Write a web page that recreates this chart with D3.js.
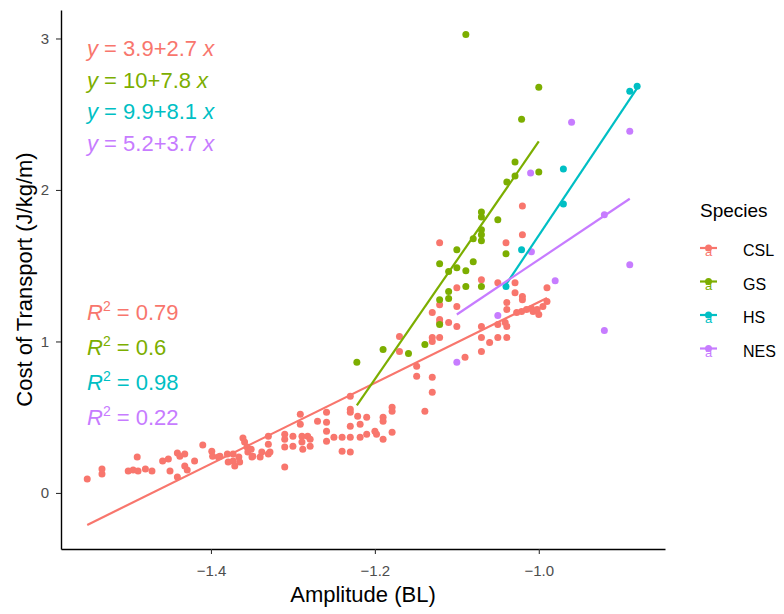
<!DOCTYPE html>
<html>
<head>
<meta charset="utf-8">
<script src="https://cdn.jsdelivr.net/npm/d3@7"></script>
<style>
  body { margin: 0; background: #fff; }
  text { font-family: "Liberation Sans", Arial, sans-serif; }
</style>
</head>
<body>
<script>
// Species and colours (ggplot default hue palette)
const species = ["CSL", "GS", "HS", "NES"];
const colors = ["#F8766D", "#7CAE00", "#00BFC4", "#C77CFF"];

// Raw points: [amplitude, cost]
const cslPoints = [
  [-1.551, 0.092], [-1.533, 0.158], [-1.533, 0.125], [-1.501, 0.145], [-1.495, 0.151],
  [-1.489, 0.145], [-1.480, 0.158], [-1.472, 0.145], [-1.490, 0.237], [-1.459, 0.211],
  [-1.452, 0.224], [-1.441, 0.263], [-1.438, 0.243], [-1.432, 0.257], [-1.450, 0.145],
  [-1.441, 0.105], [-1.432, 0.178], [-1.429, 0.151], [-1.420, 0.211], [-1.410, 0.316],
  [-1.399, 0.276], [-1.398, 0.243], [-1.391, 0.237], [-1.389, 0.243], [-1.380, 0.257],
  [-1.379, 0.204], [-1.373, 0.257], [-1.373, 0.211], [-1.371, 0.178], [-1.366, 0.237],
  [-1.365, 0.204], [-1.361, 0.362], [-1.359, 0.336], [-1.356, 0.303], [-1.355, 0.270],
  [-1.351, 0.289], [-1.350, 0.237], [-1.340, 0.237], [-1.330, 0.257], [-1.330, 0.322],
  [-1.330, 0.375], [-1.338, 0.270], [-1.328, 0.270], [-1.349, 0.243], [-1.310, 0.388],
  [-1.310, 0.355], [-1.310, 0.303], [-1.310, 0.171], [-1.300, 0.375], [-1.300, 0.309],
  [-1.291, 0.520], [-1.291, 0.454], [-1.289, 0.375], [-1.289, 0.336], [-1.288, 0.289],
  [-1.282, 0.375], [-1.279, 0.355], [-1.279, 0.309], [-1.270, 0.474], [-1.259, 0.533],
  [-1.259, 0.467], [-1.259, 0.408], [-1.259, 0.342], [-1.250, 0.368], [-1.240, 0.368],
  [-1.240, 0.276], [-1.230, 0.638], [-1.230, 0.553], [-1.230, 0.533], [-1.230, 0.441],
  [-1.230, 0.368], [-1.230, 0.270], [-1.221, 0.507], [-1.218, 0.454], [-1.218, 0.368],
  [-1.210, 0.500], [-1.210, 0.388], [-1.200, 0.408], [-1.198, 0.388], [-1.190, 0.500],
  [-1.190, 0.474], [-1.190, 0.355], [-1.179, 0.566], [-1.179, 0.539], [-1.179, 0.401],
  [-1.139, 0.539], [-1.130, 0.664], [-1.170, 1.033], [-1.170, 0.934], [-1.149, 0.836],
  [-1.149, 0.770], [-1.130, 0.763], [-1.121, 1.651], [-1.121, 1.243], [-1.130, 1.191],
  [-1.121, 1.145], [-1.121, 1.125], [-1.110, 1.125], [-1.121, 1.026], [-1.130, 1.026],
  [-1.130, 1.000], [-1.100, 1.355], [-1.100, 1.230], [-1.100, 1.099], [-1.090, 0.895],
  [-1.070, 1.408], [-1.070, 1.099], [-1.070, 1.026], [-1.070, 0.934], [-1.060, 0.993],
  [-1.050, 1.388], [-1.050, 1.112], [-1.050, 1.026], [-1.041, 1.125], [-1.039, 1.099],
  [-1.039, 1.026], [-1.039, 1.257], [-1.039, 1.211], [-1.040, 1.651], [-1.029, 1.388],
  [-1.029, 1.322], [-1.020, 1.296], [-1.020, 1.276], [-1.020, 1.704], [-1.020, 1.895],
  [-0.990, 1.355], [-1.027, 1.191], [-1.021, 1.197], [-1.015, 1.211], [-1.009, 1.217],
  [-1.007, 1.197], [-1.002, 1.211], [-1.000, 1.178], [-0.995, 1.230], [-0.990, 1.263]
];
const gsPoints = [
  [-1.222, 0.862], [-1.190, 0.947], [-1.159, 0.921], [-1.139, 0.980], [-1.121, 1.112],
  [-1.121, 1.276], [-1.110, 1.329], [-1.110, 1.283], [-1.121, 1.513], [-1.110, 1.461],
  [-1.100, 1.487], [-1.089, 1.467], [-1.080, 1.526], [-1.089, 1.362], [-1.070, 1.362],
  [-1.100, 1.605], [-1.080, 1.678], [-1.070, 1.737], [-1.070, 1.704], [-1.070, 1.664],
  [-1.070, 1.855], [-1.070, 1.822], [-1.050, 1.803], [-1.040, 1.579], [-1.039, 2.053],
  [-1.029, 2.092], [-1.029, 2.184], [-1.000, 2.118], [-1.021, 2.467], [-1.000, 2.678],
  [-1.089, 3.026]
];
const hsPoints = [
  [-1.040, 1.362], [-1.021, 1.605], [-0.970, 1.908], [-0.970, 2.138], [-0.889, 2.651],
  [-0.880, 2.684]
];
const nesPoints = [
  [-1.100, 0.862], [-1.050, 1.171], [-1.009, 1.592], [-1.010, 2.112], [-0.980, 1.401],
  [-0.960, 2.447], [-0.920, 1.836], [-0.920, 1.072], [-0.889, 2.388], [-0.889, 1.507]
];

// Linear fits per species (intercept, slope) and x extent of each fit line
const fitIntercept = [3.93, 10.17, 9.8, 5.16];
const fitSlope = [2.67, 7.85, 8.1, 3.62];
const fitXMin = [-1.551, -1.222, -1.040, -1.100];
const fitXMax = [-0.990, -1.000, -0.880, -0.889];

// Annotation labels
const eqLabels = ["3.9+2.7", "10+7.8", "9.9+8.1", "5.2+3.7"];
const r2Labels = ["0.79", "0.6", "0.98", "0.22"];

const xTicks = [-1.4, -1.2, -1.0];
const yTicks = [0, 1, 2, 3];

const W = 784, H = 614;
const panel = { left: 61, right: 665, top: 10, bottom: 549 };

const svg = d3.select("body").append("svg")
  .attr("width", W)
  .attr("height", H);

const x = d3.scaleLinear().domain([-1.583, -0.846]).range([panel.left, panel.right]);
const y = d3.scaleLinear().domain([-0.37, 3.188]).range([panel.bottom, panel.top]);

const allPoints = [cslPoints, gsPoints, hsPoints, nesPoints];

// Points
allPoints.forEach((pts, i) => {
  svg.append("g").selectAll("circle")
    .data(pts)
    .enter()
    .append("circle")
    .attr("cx", d => x(d[0]))
    .attr("cy", d => y(d[1]))
    .attr("r", 3.5)
    .attr("fill", colors[i]);
});

// Fit lines
species.forEach((s, i) => {
  svg.append("line")
    .attr("x1", x(fitXMin[i]))
    .attr("y1", y(fitIntercept[i] + fitSlope[i] * fitXMin[i]))
    .attr("x2", x(fitXMax[i]))
    .attr("y2", y(fitIntercept[i] + fitSlope[i] * fitXMax[i]))
    .attr("stroke", colors[i])
    .attr("stroke-width", 2.2);
});

// Axes
const xAxis = svg.append("g")
  .attr("transform", `translate(0,${panel.bottom})`)
  .call(d3.axisBottom(x).tickValues(xTicks).tickFormat(d3.format(".1f")).tickSize(5).tickSizeOuter(0));
const yAxis = svg.append("g")
  .attr("transform", `translate(${panel.left},0)`)
  .call(d3.axisLeft(y).tickValues(yTicks).tickFormat(d3.format("d")).tickSize(5).tickSizeOuter(0));

[xAxis, yAxis].forEach(g => {
  g.select(".domain").attr("stroke", "#000").attr("stroke-width", 1.4);
  g.selectAll(".tick line").attr("stroke", "#333").attr("stroke-width", 1.1);
  g.selectAll(".tick text")
    .attr("fill", "#4d4d4d")
    .style("font-size", "15px")
    .style("font-family", "'Liberation Sans', Arial, sans-serif");
});
xAxis.selectAll(".tick text").attr("y", 10).attr("dy", "1.15em");
yAxis.selectAll(".tick text").attr("x", -12);

// Axis titles
svg.append("text")
  .attr("x", (panel.left + panel.right) / 2)
  .attr("y", 602)
  .attr("text-anchor", "middle")
  .style("font-size", "22px")
  .attr("fill", "#000")
  .text("Amplitude (BL)");

svg.append("text")
  .attr("transform", `translate(32,${(panel.top + panel.bottom) / 2}) rotate(-90)`)
  .attr("text-anchor", "middle")
  .style("font-size", "22px")
  .attr("fill", "#000")
  .text("Cost of Transport (J/kg/m)");

// Equation annotations
eqLabels.forEach((lab, i) => {
  const t = svg.append("text")
    .attr("x", 87)
    .attr("y", 56 + i * 31.7)
    .attr("fill", colors[i])
    .style("font-size", "22px");
  t.append("tspan").style("font-style", "italic").text("y");
  t.append("tspan").text(" = " + lab + " ");
  t.append("tspan").style("font-style", "italic").text("x");
});

// R squared annotations
r2Labels.forEach((lab, i) => {
  const t = svg.append("text")
    .attr("x", 87)
    .attr("y", 320 + i * 34.9)
    .attr("fill", colors[i])
    .style("font-size", "22px");
  t.append("tspan").style("font-style", "italic").text("R");
  t.append("tspan").attr("dy", -9).style("font-size", "14px").text("2");
  t.append("tspan").attr("dy", 9).text(" = " + lab);
});

// Legend
const legend = svg.append("g").attr("transform", "translate(700,0)");
legend.append("text")
  .attr("x", 0)
  .attr("y", 217)
  .style("font-size", "19px")
  .attr("fill", "#000")
  .text("Species");

const keys = legend.selectAll(".key")
  .data(species)
  .enter()
  .append("g")
  .attr("transform", (d, i) => `translate(0,${250 + i * 33.5})`);

keys.append("line")
  .attr("x1", 0).attr("x2", 17)
  .attr("y1", -2).attr("y2", -2)
  .attr("stroke", (d, i) => colors[i])
  .attr("stroke-width", 2.2);
keys.append("circle")
  .attr("cx", 8.5).attr("cy", -2).attr("r", 3.5)
  .attr("fill", (d, i) => colors[i]);
keys.append("text")
  .attr("x", 8.5).attr("y", 6)
  .attr("text-anchor", "middle")
  .style("font-size", "13px")
  .attr("fill", (d, i) => colors[i])
  .text("a");
keys.append("text")
  .attr("x", 43).attr("y", 6)
  .style("font-size", "16px")
  .attr("fill", "#000")
  .text(d => d);
</script>
</body>
</html>
